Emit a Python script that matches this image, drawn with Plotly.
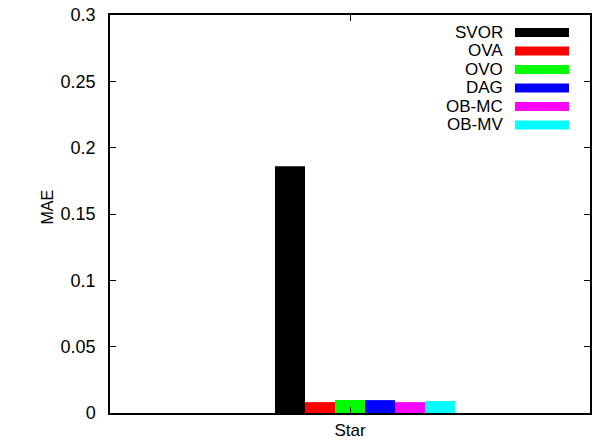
import plotly.graph_objects as go

categories = ["Star"]
series_names = ["SVOR", "OVA", "OVO", "DAG", "OB-MC", "OB-MV"]
series_values = [0.186, 0.0082, 0.0098, 0.0097, 0.0082, 0.0090]
colors = ["#000000", "#ff0000", "#00ff00", "#0000ff", "#ff00ff", "#00ffff"]
y_ticks = [0, 0.05, 0.1, 0.15, 0.2, 0.25, 0.3]
y_tick_labels = ["0", "0.05", "0.1", "0.15", "0.2", "0.25", "0.3"]

FONT = "Liberation Sans"
W, H = 597, 440
L, R, T, B = 110, 7, 15, 27
plot_w = W - L - R
plot_h = H - T - B

bar_w = 0.125
start = -0.3125

fig = go.Figure()
for i, (name, val, col) in enumerate(zip(series_names, series_values, colors)):
    fig.add_trace(go.Bar(
        x=[0], y=[val], name=name,
        width=bar_w, offset=start + i * bar_w,
        marker=dict(color=col, line=dict(width=0)),
        showlegend=False,
    ))

# custom gnuplot-style key: text right-aligned, swatch on right
shapes = []
annotations = []
for i, (name, col) in enumerate(zip(series_names, colors)):
    py = 32.5 + 18.5 * i
    yc = (H - B - py) / plot_h
    hh = 4.5 / plot_h
    shapes.append(dict(type="rect", xref="paper", yref="paper",
                       x0=(515 - L) / plot_w, x1=(569 - L) / plot_w,
                       y0=yc - hh, y1=yc + hh,
                       fillcolor=col, line=dict(width=0)))
    annotations.append(dict(text=name, xref="paper", yref="paper",
                            x=(504 - L) / plot_w, y=yc, xanchor="right", yanchor="middle",
                            height=17, borderpad=0,
                            showarrow=False, font=dict(family=FONT, size=17, color="black")))

annotations.append(dict(text="MAE", xref="paper", yref="paper",
                        x=(47 - L) / plot_w, y=(H - B - 207.5) / plot_h, textangle=-90,
                        xanchor="center", yanchor="middle", showarrow=False,
                        font=dict(family=FONT, size=16, color="black")))

fig.update_layout(
    width=W, height=H,
    margin=dict(l=L, r=R, t=T, b=B, pad=0, autoexpand=False),
    paper_bgcolor="white", plot_bgcolor="white",
    barmode="overlay",
    shapes=shapes, annotations=annotations,
    font=dict(family=FONT, size=18, color="black"),
    xaxis=dict(range=[-1, 1], tickvals=[0], ticktext=categories,
               ticks="inside", ticklen=6, tickcolor="black",
               showline=True, linecolor="black", linewidth=1.5, mirror="ticks",
               showgrid=False, zeroline=False, fixedrange=True, automargin=False,
               ticklabelstandoff=1, tickfont=dict(size=17)),
    yaxis=dict(range=[0, 0.3], tickvals=y_ticks, ticktext=y_tick_labels,
               ticks="inside", ticklen=6, tickcolor="black",
               showline=True, linecolor="black", linewidth=1.5, mirror="ticks",
               showgrid=False, zeroline=False, fixedrange=True, automargin=False,
               ticklabelstandoff=9),
)

fig.write_html("out.html")
